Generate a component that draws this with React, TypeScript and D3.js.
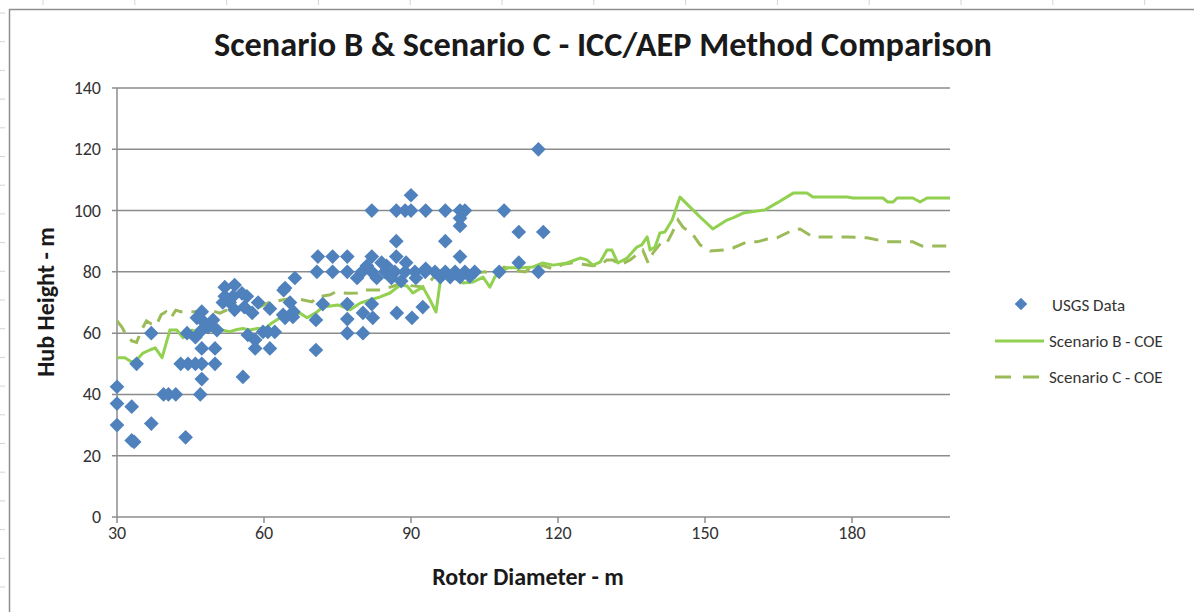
import React from 'react';
import * as d3 from 'd3';

// USGS turbine observations: [rotor diameter m, hub height m]
const usgsData: [number, number][] = [
  [30, 42.5], [30, 37], [30, 30], [33, 36], [33, 25], [33.5, 24.5], [37, 30.5], [34, 50], [37, 60],
  [39.5, 40], [40.5, 40], [42, 40], [44, 26], [47, 40],
  [43, 50], [44.5, 50], [46, 50], [47.3, 50], [47.3, 45], [47.3, 55], [50, 55], [50, 50], [55.7, 45.7],
  [44.3, 60], [46, 58.7], [47.3, 61], [47.3, 64.3], [47.3, 67], [46.3, 65], [48.6, 62], [49.6, 64.3], [50.4, 61],
  [52, 75], [54, 75.7], [52, 72], [53.7, 72], [55.5, 73], [56.5, 72], [51.6, 70], [53, 70], [54, 67.6],
  [56, 68.5], [58.8, 70], [61.2, 68], [57.6, 66.6],
  [56.7, 59.4], [58.2, 57.8], [59.8, 60.4], [60.8, 60.4], [62.2, 60.4], [58.2, 55], [61.2, 55],
  [63.9, 66], [65.9, 65.3], [65.3, 70], [64.3, 74.7], [66.3, 78], [64, 74], [66, 67],
  [71, 85], [74, 85], [77, 85], [82, 85], [87, 85], [100, 85],
  [70.8, 80], [74, 80], [77, 80], [80, 80], [82, 80], [84.7, 80], [86.7, 80], [88.8, 80], [90.8, 80],
  [92.9, 80], [94.9, 80], [97, 80], [99, 80], [101, 80], [103, 80],
  [79, 78], [81, 82], [83, 78], [85, 82], [88, 77], [89, 83], [91, 78], [93, 81], [86, 78], [84, 83],
  [72, 69.5], [77, 69.5], [82, 69.5], [70.6, 64.3], [77, 64.6], [77, 60], [80.2, 60], [80.2, 66.6],
  [82.2, 65], [70.6, 54.5], [87.1, 66.6], [90.2, 65], [92.4, 68.5], [64.3, 65],
  [82, 100], [87, 100], [88.8, 100], [90, 100], [90, 105], [93, 100], [97, 100], [100, 100], [101, 100],
  [100, 97.5], [100, 95], [87, 90], [97, 90],
  [116, 120], [109, 100], [112, 93], [117, 93], [112, 83], [108, 80], [116, 80],
  [96, 78.3], [98, 78.3], [100, 78.3], [102, 78.5],
];

const scenarioB: [number, number][] = [
  [30, 52], [31.6, 52], [33, 50.6], [34, 51.2], [35.3, 53.5], [36.7, 54.5], [37.8, 55.2], [39.2, 52],
  [40.8, 61], [42.2, 61], [43.5, 58.5], [45.3, 61], [47, 60], [48.6, 61], [50, 60.5], [51.4, 61],
  [53, 60.5], [54.5, 61.2], [55.7, 61.5], [57.1, 61], [58.6, 61.5], [60.2, 61.5], [61.6, 63.3],
  [63.3, 65], [65.3, 65.3], [67.3, 66.6], [68.8, 65], [70.8, 66.9], [72, 68.5], [75.1, 69.2],
  [77.6, 67.6], [79.6, 69.8], [81.6, 70.8], [83.7, 71.8], [85.7, 73.1], [87.8, 75.7], [89.2, 75.4],
  [90.4, 73.1], [92.4, 75.1], [93.9, 70.8], [95.1, 66.9], [96.3, 80.6], [98, 78.7], [100.6, 76.4],
  [102.7, 76.7], [104.7, 78.3], [106.1, 75], [107.1, 78.3], [109.6, 81.3], [112.2, 81.3], [114.9, 81.6],
  [116.9, 82.9], [119, 82.2], [121.8, 82.9], [124.5, 84.5], [125.9, 83.9], [127.1, 82.2], [128.6, 83.2],
  [130, 87.1], [131, 87.1], [132.2, 82.9], [134.1, 84.5], [136.1, 88.1], [137.1, 88.8], [138.2, 91.4],
  [138.8, 87.1], [139.8, 88.1], [140.8, 92.7], [141.8, 93], [143.3, 96.9], [144.9, 104.4], [146.9, 101.2],
  [149, 97.9], [151.6, 94], [154.5, 96.9], [155.7, 97.6], [157.8, 99.2], [159.2, 99.5], [162.2, 100.2],
  [164.7, 102.5], [168, 105.7], [170.8, 105.7], [172, 104.4], [179, 104.4], [180.2, 104.1], [186.3, 104.1],
  [187.3, 102.8], [188.4, 102.8], [189.2, 104.1], [192.4, 104.1], [193.9, 102.8], [195.3, 104.1], [200, 104.1],
];

const scenarioC: [number, number][] = [
  [30, 64], [31, 62], [32, 59], [33, 57.5], [34, 57], [35, 61], [36, 64], [37, 63], [38, 62.5], [39, 66],
  [40, 67], [41, 65], [42, 67.5], [43, 67], [45, 67], [47, 67], [49, 67.5], [51, 66.5], [53, 68], [55, 68.5],
  [57, 67], [59, 68.5], [61, 70], [63.7, 70.8], [66, 71.5], [69.8, 70.2], [70.8, 71.8], [73.5, 72.5],
  [74.5, 73.4], [77, 73], [79, 73.1], [80.2, 74.1], [83.7, 74.1], [85.1, 74.7], [87.1, 75.7], [88.2, 76.4],
  [90, 75.5], [92.4, 75.1], [93.3, 75.7], [95, 79], [97, 80], [99, 80], [101, 79], [103, 79.5], [105, 80],
  [107, 79.5], [109, 81.5], [111, 80.5], [113.3, 80], [115, 82], [117, 82], [119, 81], [121, 82.5],
  [123, 83], [125, 82.5], [127, 82], [128.6, 82.2], [130, 83.9], [131.2, 83.9], [132.7, 82.2], [134.7, 83.9],
  [137.3, 87.1], [138.4, 82.9], [139.4, 86.2], [141.2, 89.8], [142.2, 89.4], [143.3, 92.7], [144.5, 96.9],
  [145.5, 94.6], [147.6, 92], [149, 88.8], [151, 86.8], [153.7, 87.1], [155.7, 87.8], [158.6, 89.8],
  [160.6, 89.8], [162.7, 90.7], [164.7, 91.1], [168, 93.7], [169.4, 94], [172, 91.4], [179, 91.4],
  [183.1, 91.1], [187.1, 89.8], [192.4, 89.8], [194.3, 88.4], [200, 88.4],
];

const xTicks = [30, 60, 90, 120, 150, 180];
const yTicks = [0, 20, 40, 60, 80, 100, 120, 140];

const W = 1194;
const H = 612;
const font = 'Carlito, Calibri, "Open Sans", sans-serif';

export default function App() {
  const x = d3.scaleLinear().domain([30, 200]).range([117, 950]);
  const y = d3.scaleLinear().domain([0, 140]).range([517, 88]);

  const line = d3.line<[number, number]>().x(d => x(d[0])).y(d => y(d[1]));
  const diamond = d3.symbol().type(d3.symbolSquare).size(108)();

  const blue = '#4F81BD';
  const green = '#92D050';
  const olive = '#9BBB59';
  const grid = '#8c8c8c';
  const label = '#333';

  // spreadsheet cell marks outside the chart frame
  const topMarks = d3.range(43, W, 91.8);
  const leftMarks = d3.range(13, H, 28.7);

  return (
    <svg width={W} height={H} style={{ position: 'absolute', left: 0, top: 0, background: '#fff' }}>
      {topMarks.map((m, i) => (
        <line key={'t' + i} x1={m} x2={m} y1={0} y2={5} stroke="#d4d4d4" strokeWidth={1} />
      ))}
      {leftMarks.map((m, i) => (
        <line key={'l' + i} x1={0} x2={5} y1={m} y2={m} stroke="#d4d4d4" strokeWidth={1} />
      ))}
      <path d={`M9.5,${H} V9.5 H${W}`} fill="none" stroke="#8e8e8e" strokeWidth={1.5} />

      <text x={603} y={56} textAnchor="middle" fontFamily={font} fontWeight="bold" fontSize={34.3} fill="#1a1a1a">
        Scenario B &amp; Scenario C - ICC/AEP Method Comparison
      </text>

      {/* gridlines */}
      {yTicks.map(t => (
        <g key={'y' + t}>
          <line x1={112} x2={950} y1={y(t)} y2={y(t)} stroke={grid} strokeWidth={1.5} />
          <text x={101} y={y(t) + 6} textAnchor="end" fontFamily={font} fontSize={18} fill={label}>{t}</text>
        </g>
      ))}
      <line x1={117} x2={117} y1={88} y2={517} stroke={grid} strokeWidth={1.5} />
      {xTicks.map(t => (
        <g key={'x' + t}>
          <line x1={x(t)} x2={x(t)} y1={517} y2={523} stroke={grid} strokeWidth={1.5} />
          <text x={x(t)} y={539} textAnchor="middle" fontFamily={font} fontSize={18} fill={label}>{t}</text>
        </g>
      ))}

      <text x={528} y={585} textAnchor="middle" fontFamily={font} fontWeight="bold" fontSize={24} fill="#1a1a1a">
        Rotor Diameter - m
      </text>
      <text transform="translate(54,302) rotate(-90)" textAnchor="middle" fontFamily={font} fontWeight="bold" fontSize={24} fill="#1a1a1a">
        Hub Height - m
      </text>

      {/* series */}
      <path d={line(scenarioC) ?? ''} fill="none" stroke={olive} strokeWidth={3} strokeDasharray="14 9" />
      <path d={line(scenarioB) ?? ''} fill="none" stroke={green} strokeWidth={3} strokeLinejoin="round" />
      {usgsData.map((d, i) => (
        <path key={i} d={diamond ?? ''} transform={`translate(${x(d[0])},${y(d[1])}) rotate(45)`} fill={blue} />
      ))}

      {/* legend */}
      <path d={diamond ?? ''} transform="translate(1021,304) rotate(45) scale(0.85)" fill={blue} />
      <text x={1052} y={311} fontFamily={font} fontSize={17} fill={label}>USGS Data</text>
      <line x1={995} x2={1044} y1={341} y2={341} stroke={green} strokeWidth={3} />
      <text x={1049} y={347} fontFamily={font} fontSize={17} fill={label}>Scenario B - COE</text>
      <line x1={995} x2={1044} y1={377} y2={377} stroke={olive} strokeWidth={3} strokeDasharray="16 12" />
      <text x={1049} y={383} fontFamily={font} fontSize={17} fill={label}>Scenario C - COE</text>
    </svg>
  );
}
